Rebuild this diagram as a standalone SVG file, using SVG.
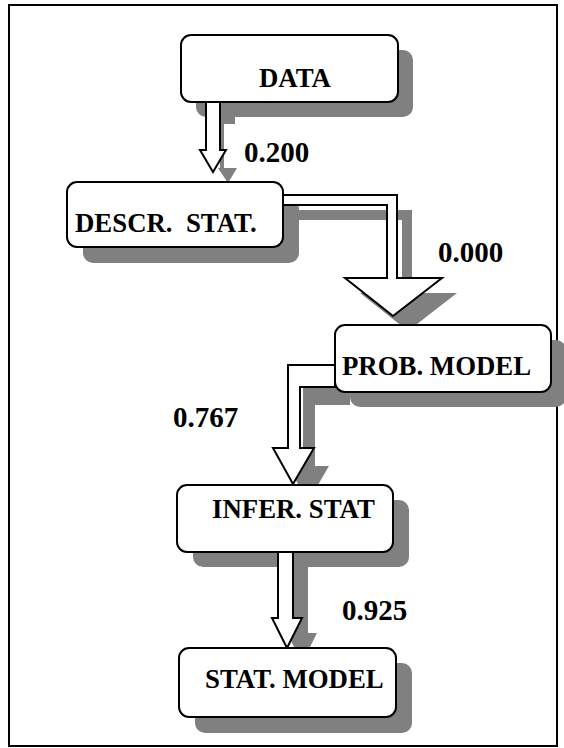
<svg xmlns="http://www.w3.org/2000/svg" width="564" height="748" viewBox="0 0 564 748">
  <style>
    .frame { fill: #ffffff; stroke: #000000; stroke-width: 2; }
    .shadow { fill: #808080; stroke: none; }
    .box { fill: #ffffff; stroke: #000000; stroke-width: 2; }
    .arrow { fill: #ffffff; stroke: #000000; stroke-width: 2; stroke-linejoin: miter; }
    .label { font-family: "Liberation Serif", "Times New Roman", serif; font-weight: bold; font-size: 26.8px; fill: #000000; white-space: pre; }
    .value { font-family: "Liberation Serif", "Times New Roman", serif; font-weight: bold; font-size: 29px; fill: #000000; }
  </style>

  <!-- outer frame -->
  <rect class="frame" x="9" y="5" width="548" height="741"/>

  <!-- drop shadows of the boxes -->
  <g id="box-shadows">
    <rect class="shadow" x="196" y="50" width="217" height="67" rx="10"/>
    <rect class="shadow" x="83" y="198" width="216" height="65" rx="10"/>
    <rect class="shadow" x="350" y="340" width="216" height="67" rx="10"/>
    <rect class="shadow" x="193" y="500" width="216" height="67" rx="10"/>
    <rect class="shadow" x="195" y="663" width="217" height="70" rx="10"/>
  </g>

  <!-- block arrows between the stages -->
  <g id="connectors">
    <!-- shadows -->
    <rect class="shadow" x="220" y="102" width="15" height="22"/>
    <rect class="shadow" x="220" y="124" width="4" height="46"/>
    <polygon class="shadow" points="218,168 237,168 228,183"/>
    <polygon class="shadow" transform="translate(15,15)" points="283,195 397,195 397,278 442,278 393,316 345,278 387,278 387,205 283,205"/>
    <polygon class="shadow" transform="translate(15,18)" points="335,365 288,365 288,448 273,448 293,484 314,448 300,448 300,387 335,387"/>
    <polygon class="shadow" transform="translate(15,15)" points="278,552 278,618 272,618 287,648 302,618 293,618 293,552"/>

    <!-- DATA -> DESCR. STAT. -->
    <polygon class="arrow" points="206,102 206,150 200,150 213,172 226,150 220,150 220,102"/>
    <!-- DESCR. STAT. -> PROB. MODEL -->
    <polygon class="arrow" points="283,195 397,195 397,278 442,278 393,316 345,278 387,278 387,205 283,205"/>
    <!-- PROB. MODEL -> INFER. STAT -->
    <polygon class="arrow" points="335,365 288,365 288,448 273,448 293,484 314,448 300,448 300,387 335,387"/>
    <!-- INFER. STAT -> STAT. MODEL -->
    <polygon class="arrow" points="278,552 278,618 272,618 287,648 302,618 293,618 293,552"/>

    <text class="value" x="244" y="162">0.200</text>
    <text class="value" x="438" y="262">0.000</text>
    <text class="value" x="173" y="427">0.767</text>
    <text class="value" x="342" y="620">0.925</text>
  </g>

  <g id="data">
    <rect class="box" x="181" y="35" width="217" height="67" rx="10"/>
    <text class="label" x="259" y="87">DATA</text>
  </g>

  <g id="descr-stat">
    <rect class="box" x="67" y="182" width="216" height="65" rx="10"/>
    <text class="label" x="75" y="232">DESCR.  STAT.</text>
  </g>

  <g id="prob-model">
    <rect class="box" x="335" y="325" width="216" height="67" rx="10"/>
    <text class="label" x="342" y="375">PROB. MODEL</text>
  </g>

  <g id="infer-stat">
    <rect class="box" x="177" y="485" width="216" height="67" rx="10"/>
    <text class="label" x="212" y="518">INFER. STAT</text>
  </g>

  <g id="stat-model">
    <rect class="box" x="179" y="648" width="217" height="69" rx="10"/>
    <text class="label" x="205" y="688">STAT. MODEL</text>
  </g>
</svg>
